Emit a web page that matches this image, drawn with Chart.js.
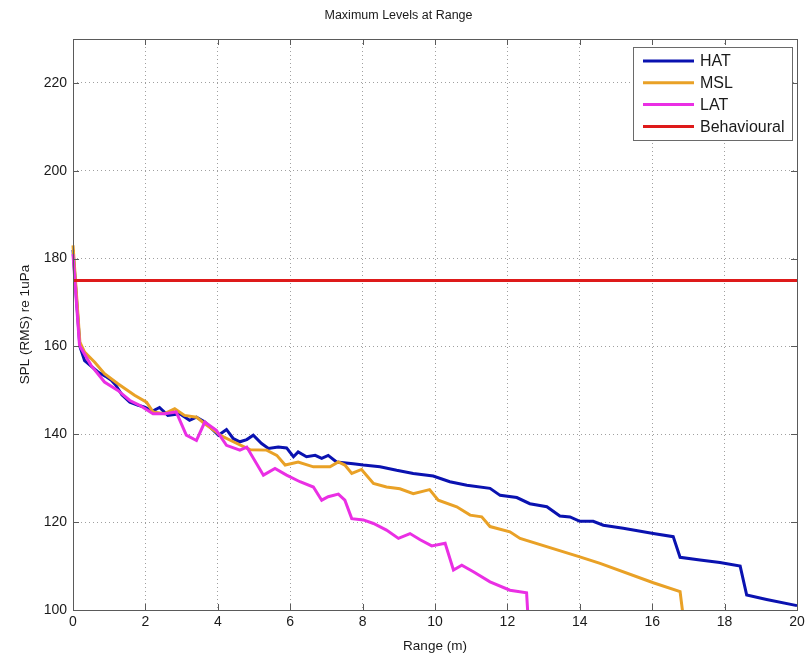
<!DOCTYPE html>
<html>
<head>
<meta charset="utf-8">
<title>Maximum Levels at Range</title>
<script src="https://cdn.jsdelivr.net/npm/chart.js@4/dist/chart.umd.min.js"></script>
<style>
  html, body { margin: 0; padding: 0; background: #ffffff; }
  #wrap { width: 811px; height: 659px; }
</style>
</head>
<body>
<div id="wrap"><canvas id="chart" width="811" height="659"></canvas></div>
<script>
// Range (m) and maximum SPL (dB re 1uPa) for each tide state
const hatRange = [0, 0.19, 0.32, 0.5, 0.69, 0.9, 1.06, 1.19, 1.35, 1.57, 1.8, 1.98, 2.2, 2.39, 2.62, 2.95, 3.22, 3.41, 3.64, 4.02, 4.24, 4.43, 4.61, 4.8, 4.98, 5.21, 5.4, 5.67, 5.9, 6.09, 6.22, 6.45, 6.69, 6.87, 7.05, 7.28, 7.74, 8.02, 8.48, 8.94, 9.4, 9.95, 10.41, 10.88, 11.52, 11.8, 12.26, 12.62, 13.09, 13.45, 13.73, 14.0, 14.37, 14.65, 15.2, 16.03, 16.58, 16.77, 17.32, 17.87, 18.43, 18.61, 19.16, 20];
const hatLevel = [182, 160, 156.8, 155.5, 154.2, 153.2, 152.3, 151.1, 149, 147.3, 146.6, 146.2, 145.3, 146.1, 144.3, 144.7, 143.2, 143.9, 142.8, 139.8, 141.1, 139, 138.3, 138.8, 139.8, 137.9, 136.8, 137.1, 136.9, 134.9, 136, 134.9, 135.2, 134.5, 135.2, 133.7, 133.3, 133, 132.6, 131.8, 131.1, 130.5, 129.2, 128.4, 127.7, 126.1, 125.6, 124.2, 123.5, 121.4, 121.2, 120.2, 120.2, 119.3, 118.6, 117.4, 116.7, 112, 111.4, 110.8, 110, 103.4, 102.4, 101];

const mslRange = [0, 0.19, 0.32, 0.6, 0.87, 1.24, 1.7, 2.03, 2.21, 2.53, 2.81, 3.08, 3.41, 3.64, 3.96, 4.06, 4.43, 4.89, 5.35, 5.63, 5.86, 6.22, 6.64, 7.1, 7.33, 7.51, 7.7, 7.97, 8.3, 8.66, 9.03, 9.4, 9.85, 10.09, 10.6, 10.97, 11.29, 11.52, 12.07, 12.35, 14.0, 14.56, 16.03, 16.77, 16.88];
const mslLevel = [183, 161, 158.7, 156.4, 153.8, 151.5, 148.9, 147.3, 145.1, 144.7, 145.8, 144.3, 143.9, 142.4, 140.5, 139.8, 138.3, 136.5, 136.4, 135.2, 133, 133.7, 132.6, 132.6, 133.7, 133, 131.1, 132, 128.8, 128, 127.6, 126.5, 127.4, 125, 123.5, 121.6, 121.2, 119, 117.8, 116.3, 112.1, 110.6, 106.2, 104.2, 97];

const latRange = [0, 0.18, 0.5, 0.87, 1.24, 1.57, 1.84, 2.21, 2.53, 2.85, 3.13, 3.41, 3.64, 3.96, 4.24, 4.61, 4.8, 5.26, 5.58, 5.9, 6.27, 6.64, 6.87, 7.05, 7.33, 7.51, 7.7, 8.02, 8.3, 8.66, 8.99, 9.31, 9.59, 9.91, 10.28, 10.51, 10.74, 11.06, 11.52, 12.07, 12.53, 12.58];
const latLevel = [181, 160.2, 155.7, 151.9, 150, 147.7, 146.6, 144.7, 144.7, 145.1, 139.8, 138.6, 142.8, 140.9, 137.5, 136.4, 137.1, 130.7, 132.2, 130.7, 129.2, 128, 125, 125.8, 126.4, 125, 120.8, 120.5, 119.7, 118.2, 116.3, 117.4, 116, 114.6, 115.2, 109.1, 110.2, 108.7, 106.4, 104.5, 103.9, 97];

// Behavioural threshold spans the full range
const behaviouralRange = [0, 20];
const behaviouralLevel = [175, 175];

const seriesNames = ['HAT', 'MSL', 'LAT', 'Behavioural'];
const seriesColors = ['#0a12b0', '#e9a126', '#ea2fe4', '#de1a1a'];

const xTicks = [0, 2, 4, 6, 8, 10, 12, 14, 16, 18, 20];
const yTicks = [100, 120, 140, 160, 180, 200, 220];

const pairs = (xs, ys) => xs.map((x, i) => ({ x: x, y: ys[i] }));
const seriesData = [
  pairs(hatRange, hatLevel),
  pairs(mslRange, mslLevel),
  pairs(latRange, latLevel),
  pairs(behaviouralRange, behaviouralLevel)
];

const textFont = "'Liberation Sans', Arial, sans-serif";

// Solid box around the plot plus inward tick marks on all four sides
const framePlugin = {
  id: 'frame',
  afterDatasetsDraw(chart) {
    const { ctx, chartArea: a, scales: { x, y } } = chart;
    ctx.save();
    ctx.strokeStyle = '#5a5a5a';
    ctx.lineWidth = 1;
    ctx.strokeRect(Math.round(a.left) + 0.5, Math.round(a.top) + 0.5,
                   Math.round(a.right - a.left), Math.round(a.bottom - a.top));
    const len = 6;
    ctx.beginPath();
    xTicks.forEach(v => {
      const px = Math.round(x.getPixelForValue(v)) + 0.5;
      ctx.moveTo(px, a.bottom); ctx.lineTo(px, a.bottom - len);
      ctx.moveTo(px, a.top); ctx.lineTo(px, a.top + len);
    });
    yTicks.forEach(v => {
      const py = Math.round(y.getPixelForValue(v)) + 0.5;
      ctx.moveTo(a.left, py); ctx.lineTo(a.left + len, py);
      ctx.moveTo(a.right, py); ctx.lineTo(a.right - len, py);
    });
    ctx.stroke();
    ctx.restore();
  }
};

// Boxed legend in the upper-right corner of the plot
const boxLegendPlugin = {
  id: 'boxLegend',
  afterDraw(chart) {
    const { ctx, chartArea: a } = chart;
    const bx = a.right - 164, by = a.top + 8, bw = 159, bh = 93;
    ctx.save();
    ctx.fillStyle = '#ffffff';
    ctx.fillRect(bx, by, bw, bh);
    ctx.strokeStyle = '#6a6a6a';
    ctx.lineWidth = 1;
    ctx.strokeRect(Math.round(bx) + 0.5, Math.round(by) + 0.5, bw, bh);
    ctx.font = '16px ' + textFont;
    ctx.textBaseline = 'middle';
    ctx.textAlign = 'left';
    chart.data.datasets.forEach((ds, i) => {
      const ry = by + 14 + i * 21.8;
      ctx.strokeStyle = ds.borderColor;
      ctx.lineWidth = 3;
      ctx.beginPath();
      ctx.moveTo(bx + 10, ry);
      ctx.lineTo(bx + 61, ry);
      ctx.stroke();
      ctx.fillStyle = '#1a1a1a';
      ctx.fillText(ds.label, bx + 67, ry + 1);
    });
    ctx.restore();
  }
};

new Chart(document.getElementById('chart'), {
  type: 'line',
  data: {
    datasets: seriesNames.map((name, i) => ({
      label: name,
      data: seriesData[i],
      borderColor: seriesColors[i],
      backgroundColor: seriesColors[i],
      borderWidth: 3,
      pointRadius: 0,
      tension: 0,
      fill: false,
      order: seriesNames.length - i,
      clip: { left: 3, right: 3, top: 3, bottom: 0 }
    }))
  },
  options: {
    responsive: false,
    animation: false,
    events: [],
    layout: { padding: { left: 0, right: 14, top: 0, bottom: 0 } },
    plugins: {
      legend: { display: false },
      tooltip: { enabled: false },
      title: {
        display: true,
        text: 'Maximum Levels at Range',
        color: '#1a1a1a',
        font: { family: textFont, size: 12.5, weight: 'normal' },
        padding: { top: 8, bottom: 16 }
      }
    },
    scales: {
      x: {
        type: 'linear',
        min: 0,
        max: 20,
        afterBuildTicks(scale) { scale.ticks = xTicks.map(v => ({ value: v })); },
        afterFit(scale) { scale.height = 49; },
        ticks: {
          color: '#1a1a1a',
          padding: 4,
          maxRotation: 0,
          font: { family: textFont, size: 14 }
        },
        grid: { color: '#a0a0a0', lineWidth: 1, drawTicks: false },
        border: { display: false, dash: [1, 3] },
        title: {
          display: true,
          text: 'Range (m)',
          color: '#1a1a1a',
          font: { family: textFont, size: 13.5 },
          padding: { top: 0, bottom: 5 }
        }
      },
      y: {
        type: 'linear',
        min: 100,
        max: 230,
        afterBuildTicks(scale) { scale.ticks = yTicks.map(v => ({ value: v })); },
        afterFit(scale) { scale.width = 73; },
        ticks: {
          color: '#1a1a1a',
          padding: 6,
          font: { family: textFont, size: 14 }
        },
        grid: { color: '#a0a0a0', lineWidth: 1, drawTicks: false },
        border: { display: false, dash: [1, 3] },
        title: {
          display: true,
          text: 'SPL (RMS) re 1uPa',
          color: '#1a1a1a',
          font: { family: textFont, size: 13.5 },
          padding: { top: 17, bottom: 0 }
        }
      }
    }
  },
  plugins: [framePlugin, boxLegendPlugin]
});
</script>
</body>
</html>
